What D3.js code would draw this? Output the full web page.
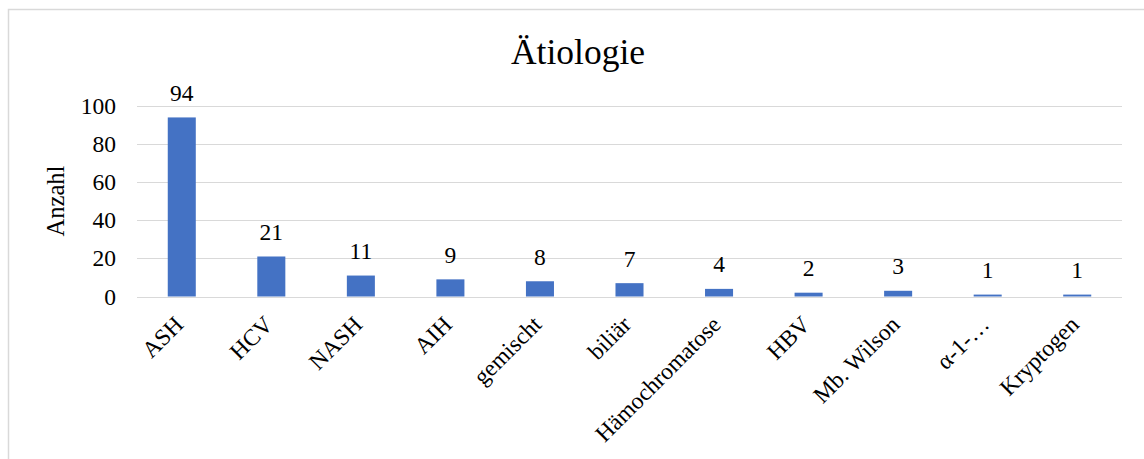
<!DOCTYPE html>
<html>
<head>
<meta charset="utf-8">
<script src="https://cdn.jsdelivr.net/npm/d3@7"></script>
<style>
  html, body { margin: 0; padding: 0; background: #fff; }
  svg { display: block; }
  text { font-family: "Liberation Serif", "Times New Roman", serif; fill: #000; }
</style>
</head>
<body>
<svg id="chart" width="1144" height="459"></svg>
<script>
const categories = ["ASH", "HCV", "NASH", "AIH", "gemischt", "biliär", "Hämochromatose", "HBV", "Mb. Wilson", "α-1-…", "Kryptogen"];
const values = [94, 21, 11, 9, 8, 7, 4, 2, 3, 1, 1];
const yTicks = [0, 20, 40, 60, 80, 100];
const titleText = "Ätiologie";
const yAxisTitle = "Anzahl";

const svg = d3.select("#chart");
const W = 1144, H = 459;

// outer frame (left + top visible)
svg.append("path")
  .attr("d", `M8.5,${H} L8.5,9.5 L${W},9.5`)
  .attr("fill", "none")
  .attr("stroke", "#d9d9d9")
  .attr("stroke-width", 1.5);

const x = d3.scaleBand().domain(categories).range([137, 1122])
  .paddingInner(0.687).paddingOuter(0.3435);
const y = d3.scaleLinear().domain([0, 100]).range([296.5, 106]);

// gridlines
svg.append("g").selectAll("line").data(yTicks).join("line")
  .attr("x1", 137).attr("x2", 1122)
  .attr("y1", d => Math.round(y(d)) + 0.5).attr("y2", d => Math.round(y(d)) + 0.5)
  .attr("stroke", "#d9d9d9").attr("stroke-width", 1);

// y axis labels
const yAxis = d3.axisLeft(y).tickValues(yTicks).tickSize(0).tickPadding(0);
const yg = svg.append("g").attr("transform", "translate(116,0)").call(yAxis);
yg.select(".domain").remove();
yg.selectAll("text")
  .style("font-family", "'Liberation Serif', 'Times New Roman', serif")
  .style("font-size", "23.5px").attr("fill", "#000");

// bars
svg.append("g").selectAll("rect").data(values).join("rect")
  .attr("x", (d, i) => x(categories[i]))
  .attr("width", x.bandwidth())
  .attr("y", d => y(d))
  .attr("height", d => y(0) - y(d))
  .attr("fill", "#4472c4");

// data labels
svg.append("g").selectAll("text").data(values).join("text")
  .attr("x", (d, i) => x(categories[i]) + x.bandwidth() / 2)
  .attr("y", d => y(d) - 16.5)
  .attr("text-anchor", "middle")
  .style("font-size", "23.5px")
  .text(d => d);

// x axis labels
const xAxis = d3.axisBottom(x).tickSize(0).tickPadding(0);
const xg = svg.append("g").attr("transform", "translate(0,296.5)").call(xAxis);
xg.select(".domain").remove();
xg.selectAll("text")
  .attr("y", 0).attr("dy", 0)
  .attr("transform", "translate(3,29.5) rotate(-45)")
  .attr("text-anchor", "end")
  .style("font-family", "'Liberation Serif', 'Times New Roman', serif")
  .style("font-size", "23.5px").attr("fill", "#000");

// title
svg.append("text")
  .attr("x", 578).attr("y", 64)
  .attr("text-anchor", "middle")
  .style("font-size", "35.5px")
  .text(titleText);

// y axis title
svg.append("text")
  .attr("transform", "translate(64,201) rotate(-90)")
  .attr("text-anchor", "middle")
  .style("font-size", "24.5px")
  .text(yAxisTitle);
</script>
</body>
</html>
